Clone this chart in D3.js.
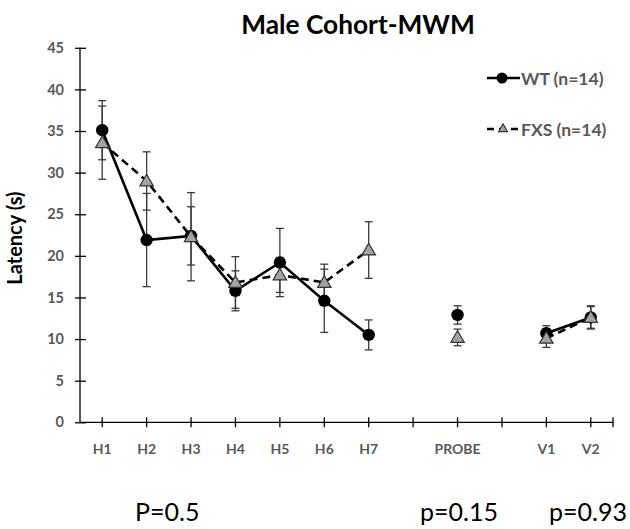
<!DOCTYPE html>
<html><head><meta charset="utf-8">
<script src="https://cdn.jsdelivr.net/npm/d3@7"></script>
<style>
html,body{margin:0;padding:0;background:#fff;}
svg text{font-family:Lato,"Noto Sans",sans-serif;}
</style></head>
<body><svg id="c" width="630" height="529"></svg>
<script>
const slots = ["H1","H2","H3","H4","H5","H6","H7","gapA","PROBE","gapB","V1","V2"];
const tickLabels = ["H1","H2","H3","H4","H5","H6","H7","","PROBE","","V1","V2"];
const wtValues = [35.1,21.9,22.4,15.8,19.2,14.6,10.5,null,12.9,null,10.7,12.6];
const wtErrors = [3.55,5.6,3.5,2.4,4.1,3.8,1.8,null,1.1,null,0.9,1.3];
const fxsValues = [33.6,29.0,22.3,16.8,17.7,16.8,20.7,null,10.2,null,10.1,12.6];
const fxsErrors = [4.4,3.5,5.3,3.1,2.1,2.2,3.4,null,1.0,null,1.1,1.4];
const yTicks = [0,5,10,15,20,25,30,35,40,45];
const seriesNames = ["WT (n=14)","FXS (n=14)"];
const pLabels = [{text:"P=0.5", x:135},{text:"p=0.15", x:420},{text:"p=0.93", x:549}];

const svg = d3.select("#c");
const x = d3.scaleBand().domain(slots).range([80,613]);
const cx = d => x(d) + x.bandwidth()/2;
const y = d3.scaleLinear().domain([0,45]).range([422.3,47.8]);
const gray = "#595959";

// title
svg.append("text").attr("x",358).attr("y",34).attr("text-anchor","middle")
  .attr("font-size",26.3).attr("font-weight","bold").attr("fill","#000").text("Male Cohort-MWM");

// y axis
const ya = svg.append("g").attr("transform","translate(80,0)")
  .call(d3.axisLeft(y).tickValues(yTicks).tickSize(5).tickPadding(11));
ya.select(".domain").attr("d",`M0,${y(45)}V${y(0)}`).attr("stroke","#000").attr("stroke-width",1.3);
ya.selectAll(".tick line").attr("x1",-5).attr("x2",6).attr("stroke","#000").attr("stroke-width",1.3);
ya.selectAll(".tick text").attr("font-size",14.5).attr("font-weight","bold").attr("fill",gray)
  .attr("font-family","Lato");

// x axis
const xa = svg.append("g").attr("transform",`translate(0,${y(0)})`)
  .call(d3.axisBottom(x).tickFormat((d,i)=>tickLabels[i]).tickSize(5).tickPadding(17));
xa.select(".domain").attr("d","M80,0H613").attr("stroke","#000").attr("stroke-width",1.3);
xa.selectAll(".tick line").attr("y1",-5).attr("y2",5).attr("stroke","#000").attr("stroke-width",1.3);
xa.selectAll(".tick text").attr("font-size",14).attr("font-weight","bold").attr("fill",gray)
  .attr("font-family","Lato");
xa.append("line").attr("x1",613).attr("x2",613).attr("y1",-5).attr("y2",5)
  .attr("stroke","#000").attr("stroke-width",1.3);

// y label
svg.append("text").attr("transform","translate(22,238) rotate(-90)").attr("text-anchor","middle")
  .attr("font-size",20).attr("font-weight","bold").attr("fill","#000").text("Latency (s)");

function seriesData(vals, errs){
  return slots.map((s,i)=>({s, v: vals[i], e: errs[i]}));
}
const wt = seriesData(wtValues, wtErrors);
const fxs = seriesData(fxsValues, fxsErrors);

const line = d3.line().defined(d=>d.v!==null).x(d=>cx(d.s)).y(d=>y(d.v));

function errorBars(data){
  const g = svg.append("g").attr("stroke","#3a3a3a").attr("stroke-width",1.3);
  data.filter(d=>d.v!==null).forEach(d=>{
    const X = cx(d.s);
    g.append("line").attr("x1",X).attr("x2",X).attr("y1",y(d.v+d.e)).attr("y2",y(d.v-d.e));
    g.append("line").attr("x1",X-4).attr("x2",X+4).attr("y1",y(d.v+d.e)).attr("y2",y(d.v+d.e));
    g.append("line").attr("x1",X-4).attr("x2",X+4).attr("y1",y(d.v-d.e)).attr("y2",y(d.v-d.e));
  });
}
errorBars(wt);
errorBars(fxs);

// lines
svg.append("path").datum(wt).attr("d",line).attr("fill","none").attr("stroke","#000").attr("stroke-width",2.6);
svg.append("path").datum(fxs).attr("d",line).attr("fill","none").attr("stroke","#000").attr("stroke-width",2.6)
  .attr("stroke-dasharray","8,5");

const tri = d3.symbol().type(d3.symbolTriangle);
// markers
svg.append("g").selectAll("circle").data(wt.filter(d=>d.v!==null)).join("circle")
  .attr("cx",d=>cx(d.s)).attr("cy",d=>y(d.v)).attr("r",6.2).attr("fill","#000");
svg.append("g").selectAll("path").data(fxs.filter(d=>d.v!==null)).join("path")
  .attr("transform",d=>`translate(${cx(d.s)},${y(d.v)+1})`).attr("d",tri.size(78)())
  .attr("fill","#a3a3a3").attr("stroke","#333").attr("stroke-width",1.2);

// legend
const lg = svg.append("g");
lg.append("line").attr("x1",487).attr("x2",520).attr("y1",78).attr("y2",78).attr("stroke","#000").attr("stroke-width",2.6);
lg.append("circle").attr("cx",502).attr("cy",78).attr("r",5.5).attr("fill","#000");
lg.append("text").attr("x",521).attr("y",84.5).attr("font-size",17.5).attr("font-weight","bold").attr("fill",gray).text(seriesNames[0]);
lg.append("line").attr("x1",487).attr("x2",520).attr("y1",129).attr("y2",129).attr("stroke","#000").attr("stroke-width",2.6)
  .attr("stroke-dasharray","7,5");
lg.append("path").attr("transform","translate(503,129)").attr("d",tri.size(34)())
  .attr("fill","#a3a3a3").attr("stroke","#333").attr("stroke-width",1.2);
lg.append("text").attr("x",521).attr("y",135.5).attr("font-size",17.5).attr("font-weight","bold").attr("fill",gray).text(seriesNames[1]);

// p values
svg.append("g").selectAll("text").data(pLabels).join("text")
  .attr("x",d=>d.x).attr("y",520.5).attr("font-size",25).attr("fill","#000").text(d=>d.text);
</script></body></html>
